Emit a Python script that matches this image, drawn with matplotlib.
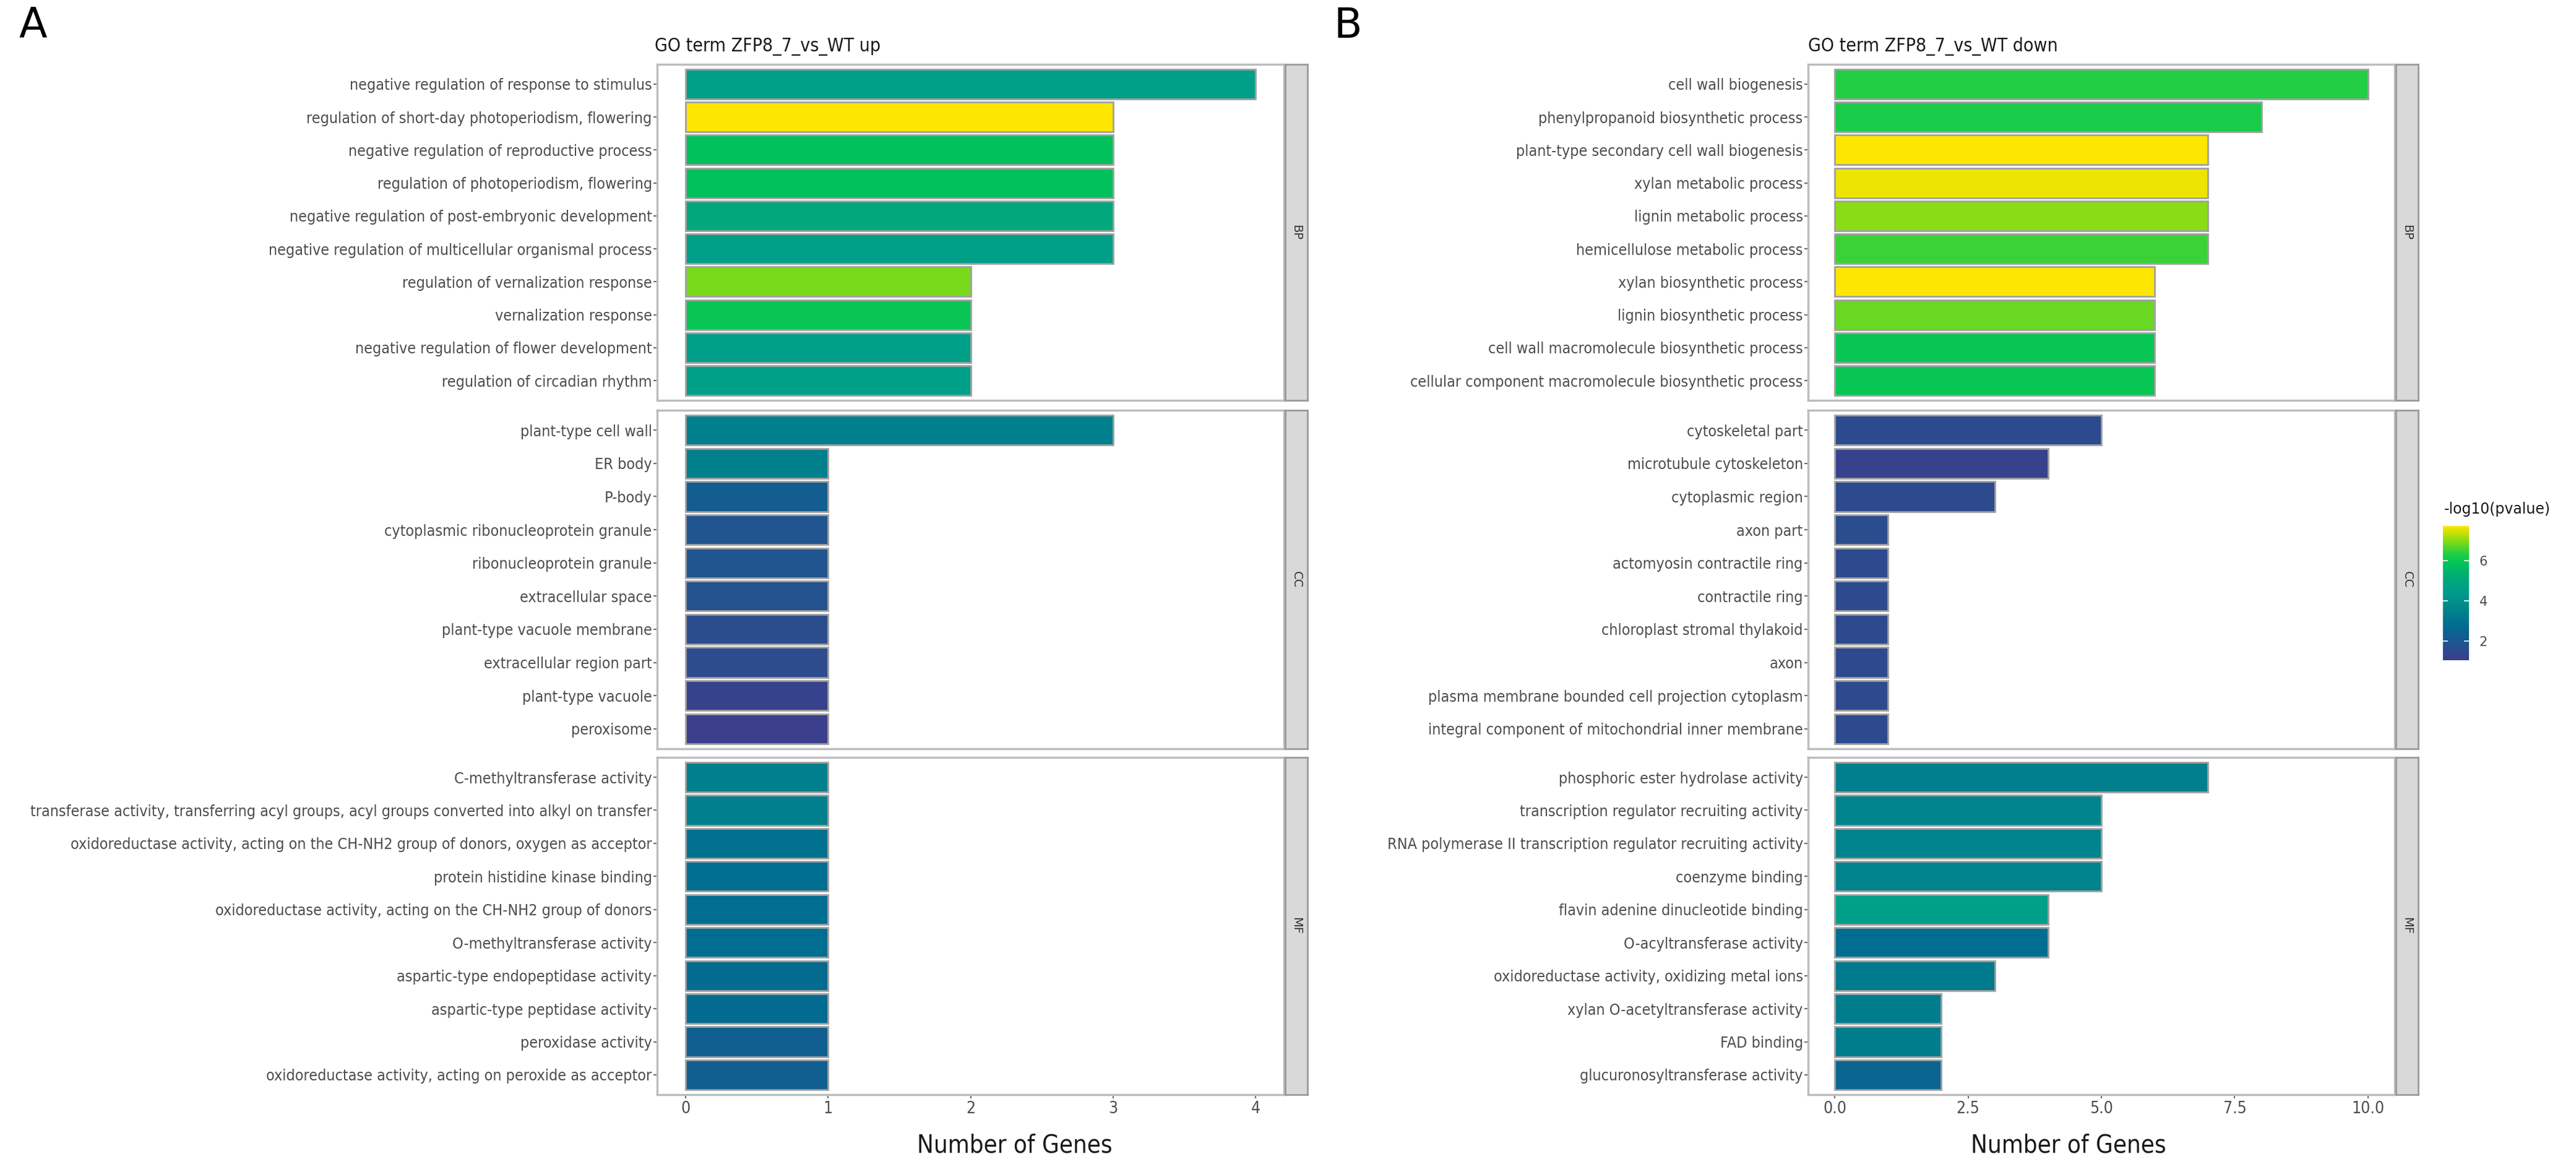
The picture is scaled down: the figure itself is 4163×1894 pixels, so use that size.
import matplotlib
matplotlib.use("Agg")
import matplotlib.pyplot as plt
from matplotlib.colors import LinearSegmentedColormap, Normalize
from matplotlib import font_manager as fm
import numpy as np

# ---------------- data ----------------
a_bp_terms = ["negative regulation of response to stimulus",
              "regulation of short-day photoperiodism, flowering",
              "negative regulation of reproductive process",
              "regulation of photoperiodism, flowering",
              "negative regulation of post-embryonic development",
              "negative regulation of multicellular organismal process",
              "regulation of vernalization response",
              "vernalization response",
              "negative regulation of flower development",
              "regulation of circadian rhythm"]
a_bp_counts = [4, 3, 3, 3, 3, 3, 2, 2, 2, 2]
a_bp_logp = [4.7, 7.72, 5.8, 5.8, 5.0, 4.7, 6.9, 6.0, 4.7, 4.7]

a_cc_terms = ["plant-type cell wall", "ER body", "P-body",
              "cytoplasmic ribonucleoprotein granule", "ribonucleoprotein granule",
              "extracellular space", "plant-type vacuole membrane",
              "extracellular region part", "plant-type vacuole", "peroxisome"]
a_cc_counts = [3, 1, 1, 1, 1, 1, 1, 1, 1, 1]
a_cc_logp = [3.4, 3.4, 2.2, 1.9, 1.9, 1.8, 1.6, 1.55, 1.2, 1.05]

a_mf_terms = ["C-methyltransferase activity",
              "transferase activity, transferring acyl groups, acyl groups converted into alkyl on transfer",
              "oxidoreductase activity, acting on the CH-NH2 group of donors, oxygen as acceptor",
              "protein histidine kinase binding",
              "oxidoreductase activity, acting on the CH-NH2 group of donors",
              "O-methyltransferase activity",
              "aspartic-type endopeptidase activity",
              "aspartic-type peptidase activity",
              "peroxidase activity",
              "oxidoreductase activity, acting on peroxide as acceptor"]
a_mf_counts = [1, 1, 1, 1, 1, 1, 1, 1, 1, 1]
a_mf_logp = [3.4, 3.4, 2.9, 2.8, 2.8, 2.8, 2.7, 2.7, 2.3, 2.3]

b_bp_terms = ["cell wall biogenesis", "phenylpropanoid biosynthetic process",
              "plant-type secondary cell wall biogenesis", "xylan metabolic process",
              "lignin metabolic process", "hemicellulose metabolic process",
              "xylan biosynthetic process", "lignin biosynthetic process",
              "cell wall macromolecule biosynthetic process",
              "cellular component macromolecule biosynthetic process"]
b_bp_counts = [10, 8, 7, 7, 7, 7, 6, 6, 6, 6]
b_bp_logp = [6.3, 6.2, 7.72, 7.6, 7.0, 6.5, 7.72, 6.8, 6.0, 6.0]

b_cc_terms = ["cytoskeletal part", "microtubule cytoskeleton", "cytoplasmic region",
              "axon part", "actomyosin contractile ring", "contractile ring",
              "chloroplast stromal thylakoid", "axon",
              "plasma membrane bounded cell projection cytoplasm",
              "integral component of mitochondrial inner membrane"]
b_cc_counts = [5, 4, 3, 1, 1, 1, 1, 1, 1, 1]
b_cc_logp = [1.5, 1.2, 1.5, 1.6, 1.5, 1.5, 1.5, 1.5, 1.5, 1.5]

b_mf_terms = ["phosphoric ester hydrolase activity",
              "transcription regulator recruiting activity",
              "RNA polymerase II transcription regulator recruiting activity",
              "coenzyme binding", "flavin adenine dinucleotide binding",
              "O-acyltransferase activity", "oxidoreductase activity, oxidizing metal ions",
              "xylan O-acetyltransferase activity", "FAD binding",
              "glucuronosyltransferase activity"]
b_mf_counts = [7, 5, 5, 5, 4, 4, 3, 2, 2, 2]
b_mf_logp = [3.4, 3.5, 3.5, 3.5, 4.7, 2.8, 3.2, 3.3, 3.3, 2.5]

ontologies = ["BP", "CC", "MF"]
titles = ["GO term ZFP8_7_vs_WT up", "GO term ZFP8_7_vs_WT down"]
panel_letters = ["A", "B"]
a_xticks = [0, 1, 2, 3, 4]
a_xticklabels = ["0", "1", "2", "3", "4"]
b_xticks = [0, 2.5, 5, 7.5, 10]
b_xticklabels = ["0.0", "2.5", "5.0", "7.5", "10.0"]
legend_ticks = [2, 4, 6]
legend_title = "-log10(pvalue)"
xlabel = "Number of Genes"

# ---------------- styling ----------------
fonts = fm.fontManager.ttflist
names = {f.name for f in fonts}
has_cond = any(f.name == "DejaVu Sans" and str(f.stretch) in ("condensed", "semi-condensed", "75", "87")
               for f in fonts)
if "Liberation Sans Narrow" in names:
    LFAM, LST, LFS = ["Liberation Sans Narrow", "DejaVu Sans"], "normal", 19.5
elif has_cond:
    LFAM, LST, LFS = ["DejaVu Sans"], "condensed", 18
else:
    LFAM, LST, LFS = ["DejaVu Sans"], "normal", 16.2

all_logp = a_bp_logp + a_cc_logp + a_mf_logp + b_bp_logp + b_cc_logp + b_mf_logp
vmin, vmax = min(all_logp), max(all_logp)
norm = Normalize(vmin, vmax)
anchor_v = [1.05, 1.6, 2.2, 2.8, 3.4, 4.1, 4.7, 5.3, 5.9, 6.4, 7.0, 7.72]
anchor_c = ["#3b3f8c", "#2b4d8e", "#135d90", "#006e90", "#00808c", "#00948a",
            "#00a088", "#00b070", "#00c458", "#28d040", "#88dc14", "#fde600"]
cmap = LinearSegmentedColormap.from_list(
    "vir", [((v - anchor_v[0]) / (anchor_v[-1] - anchor_v[0]), c) for v, c in zip(anchor_v, anchor_c)])

W, H = 4163, 1894
fig = plt.figure(figsize=(W / 100, H / 100), dpi=100)
fig.patch.set_facecolor("white")


def box(x0, y0, x1, y1):
    return [x0 / W, 1 - y1 / H, (x1 - x0) / W, (y1 - y0) / H]


rows = [(104, 647), (663, 1210), (1224, 1769)]
panels = [
    dict(x0=1062, x1=2075, xlim=(-0.2, 4.2), ticks=a_xticks, tl=a_xticklabels,
         data=[(a_bp_terms, a_bp_counts, a_bp_logp), (a_cc_terms, a_cc_counts, a_cc_logp),
               (a_mf_terms, a_mf_counts, a_mf_logp)],
         title_x=1058, letter_x=30, xlabel_x=1640),
    dict(x0=2922, x1=3870, xlim=(-0.5, 10.5), ticks=b_xticks, tl=b_xticklabels,
         data=[(b_bp_terms, b_bp_counts, b_bp_logp), (b_cc_terms, b_cc_counts, b_cc_logp),
               (b_mf_terms, b_mf_counts, b_mf_logp)],
         title_x=2922, letter_x=2155, xlabel_x=3343),
]

for pi, p in enumerate(panels):
    for ri, (y0, y1) in enumerate(rows):
        terms, counts, logp = p["data"][ri]
        ax = fig.add_axes(box(p["x0"], y0, p["x1"], y1))
        n = len(terms)
        ax.barh(np.arange(n), counts, height=0.9, color=cmap(norm(np.array(logp))),
                edgecolor="#a0a0a0", linewidth=2.0, zorder=2)
        ax.set_ylim(n - 0.4, -0.6)
        ax.set_xlim(*p["xlim"])
        ax.set_yticks(np.arange(n))
        ax.set_yticklabels(terms, family=LFAM, stretch=LST, fontsize=LFS, color="#4d4d4d")
        ax.tick_params(axis="y", length=4, width=1.5, color="#6e6e6e", pad=2)
        ax.set_xticks(p["ticks"])
        if ri == 2:
            ax.set_xticklabels(p["tl"], family=LFAM, stretch=LST, fontsize=LFS + 1, color="#4d4d4d")
            ax.tick_params(axis="x", length=4, width=1.5, color="#6e6e6e", pad=3)
        else:
            ax.tick_params(axis="x", length=0, labelbottom=False)
        for s in ax.spines.values():
            s.set_color("#bdbdbd")
            s.set_linewidth(2.5)
        # facet strip
        sax = fig.add_axes(box(p["x1"] + 2, y0, p["x1"] + 38, y1))
        sax.set_facecolor("#d9d9d9")
        sax.set_xticks([])
        sax.set_yticks([])
        for s in sax.spines.values():
            s.set_color("#9a9a9a")
            s.set_linewidth(2.0)
        sax.text(0.5, 0.5, ontologies[ri], rotation=270, ha="center", va="center",
                 fontsize=14, color="#333333", transform=sax.transAxes)
    fig.text(p["title_x"] / W, 1 - 75 / H, titles[pi], family=LFAM, stretch=LST,
             fontsize=LFS * 1.2, ha="left", va="center", color="#1a1a1a")
    fig.text(p["letter_x"] / W, 1 - 42 / H, panel_letters[pi], fontsize=48,
             ha="left", va="center", color="black")
    fig.text(p["xlabel_x"] / W, 1 - 1851 / H, xlabel, family=LFAM, stretch=LST,
             fontsize=LFS * 1.6, ha="center", va="center", color="#1a1a1a")

# legend colorbar
cax = fig.add_axes(box(3948, 850, 3990, 1067))
grad = np.linspace(vmin, vmax, 256).reshape(-1, 1)
cax.imshow(grad, aspect="auto", cmap=cmap, norm=norm, origin="lower",
           extent=[0, 1, vmin, vmax])
cax.set_xticks([])
cax.yaxis.tick_right()
cax.set_yticks(legend_ticks)
cax.set_yticklabels([str(t) for t in legend_ticks], fontsize=15, color="#4d4d4d")
cax.tick_params(axis="y", direction="in", length=6, width=1.2, color="white",
                left=True, right=True, pad=12)
for s in cax.spines.values():
    s.set_visible(False)
fig.text(3950 / W, 1 - 823 / H, legend_title, fontsize=17, ha="left", va="center",
         color="#1a1a1a")

fig.savefig("out.png", dpi=100, facecolor="white")
